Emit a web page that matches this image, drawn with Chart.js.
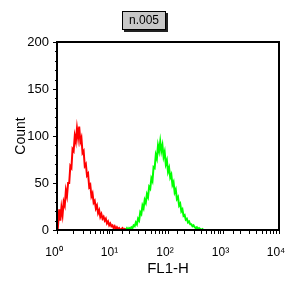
<!DOCTYPE html>
<html>
<head>
<meta charset="utf-8">
<script src="https://cdn.jsdelivr.net/npm/chart.js@4"></script>
<style>
    html, body { margin: 0; padding: 0; background: #fff; }
    #wrap { position: relative; width: 288px; height: 288px; }
    #tag {
        position: absolute; left: 122px; top: 11px; width: 42px; height: 17px;
        background: #c8c8c8; border: 1px solid #000; box-shadow: 2px 2px 0 #222;
        font: 12px "Liberation Sans", Arial, sans-serif; color: #000;
        text-align: center; line-height: 17px;
    }
</style>
</head>
<body>
<div id="wrap">
    <canvas id="chart" width="288" height="288"></canvas>
    <div id="tag">n.005</div>
</div>
<script>
// histogram channels: log10 start of each trace and channel width in decades
const redStart = 0.0;
const greenStart = 1.2;
const channelStep = 0.02;

const redCounts = [14, 6, 22, 10, 24, 16, 30, 26, 42, 36, 50, 50, 68, 66, 86, 84, 100, 94, 108, 98,
    110, 94, 98, 82, 84, 68, 70, 58, 60, 46, 48, 36, 39, 29, 31, 23, 26, 18, 21, 14,
    17, 12, 14, 10, 12, 7, 9, 5, 7, 4, 5, 2, 4, 1, 3, 1, 2, 0, 1, 2, 0, 1, 0];

const greenCounts = [0, 1, 0, 2, 0, 2, 1, 3, 2, 5, 4, 8, 6, 12, 10, 19, 17, 26, 23, 32,
    29, 38, 35, 46, 44, 55, 52, 67, 66, 80, 76, 90, 84, 94, 84, 90, 78, 83, 70, 74,
    62, 66, 56, 59, 48, 51, 40, 43, 33, 35, 26, 28, 20, 22, 15, 16, 11, 12, 8, 9,
    6, 6, 4, 5, 3, 2, 3, 1, 2, 1, 0, 1, 0];

const yTicks = [0, 50, 100, 150, 200];
const decadeLabels = ['10\u2070', '10\u00b9', '10\u00b2', '10\u00b3', '10\u2074'];

function toPoints(start, counts) {
    return counts.map((c, i) => ({ x: Math.pow(10, start + i * channelStep), y: c }));
}

const FONT = '"Liberation Sans", Arial, sans-serif';

// frame round the plot area and small minor ticks on the count axis
const framePlugin = {
    id: 'frame',
    afterDatasetsDraw(chart) {
        const a = chart.chartArea;
        const ctx = chart.ctx;
        const y = chart.scales.y;
        ctx.save();
        ctx.strokeStyle = '#000';
        ctx.lineWidth = 1;
        for (let v = 10; v < 200; v += 10) {
            if (v % 50 === 0) continue;
            let py = Math.round(y.getPixelForValue(v)) + 0.5;
            ctx.beginPath();
            ctx.moveTo(a.left - 2, py);
            ctx.lineTo(a.left, py);
            ctx.stroke();
        }
        ctx.lineWidth = 2;
        ctx.strokeRect(a.left, a.top, a.right - a.left, a.bottom - a.top);
        ctx.restore();
    }
};

new Chart(document.getElementById('chart'), {
    type: 'line',
    data: {
        datasets: [{
            data: toPoints(redStart, redCounts),
            borderColor: '#ff0000',
            borderWidth: 2,
            pointRadius: 0
        }, {
            data: toPoints(greenStart, greenCounts),
            borderColor: '#00ff00',
            borderWidth: 2,
            pointRadius: 0
        }]
    },
    options: {
        responsive: false,
        animation: false,
        events: [],
        layout: { padding: { left: 0, right: 9, top: 42, bottom: 0 } },
        plugins: { legend: { display: false }, tooltip: { enabled: false } },
        scales: {
            x: {
                type: 'logarithmic',
                min: 1,
                max: 10000,
                afterFit: (scale) => {
                    scale.height = 58;
                    scale.paddingLeft = 0;
                    scale.paddingRight = 0;
                },
                grid: { drawOnChartArea: false, tickLength: 4, color: '#000' },
                border: { color: '#000', width: 2 },
                ticks: {
                    autoSkip: false,
                    maxRotation: 0,
                    padding: 11,
                    labelOffset: -3,
                    color: '#000',
                    font: { family: FONT, size: 12 },
                    callback: function (value) {
                        let e = Math.log10(value);
                        if (Math.abs(e - Math.round(e)) < 1e-9) return decadeLabels[Math.round(e)];
                        return '';
                    }
                },
                title: {
                    display: true,
                    text: 'FL1-H',
                    color: '#000',
                    font: { family: FONT, size: 15 },
                    padding: { top: 4, bottom: 10 }
                }
            },
            y: {
                min: 0,
                max: 200,
                afterFit: (scale) => { scale.width = 57; },
                afterBuildTicks: (scale) => { scale.ticks = yTicks.map(v => ({ value: v })); },
                grid: { drawOnChartArea: false, tickLength: 4, color: '#000' },
                border: { color: '#000', width: 2 },
                ticks: {
                    padding: 4,
                    color: '#000',
                    font: { family: FONT, size: 13 }
                },
                title: {
                    display: true,
                    text: 'Count',
                    color: '#000',
                    font: { family: FONT, size: 14 },
                    padding: { top: 13, bottom: 0 }
                }
            }
        }
    },
    plugins: [framePlugin]
});
</script>
</body>
</html>
